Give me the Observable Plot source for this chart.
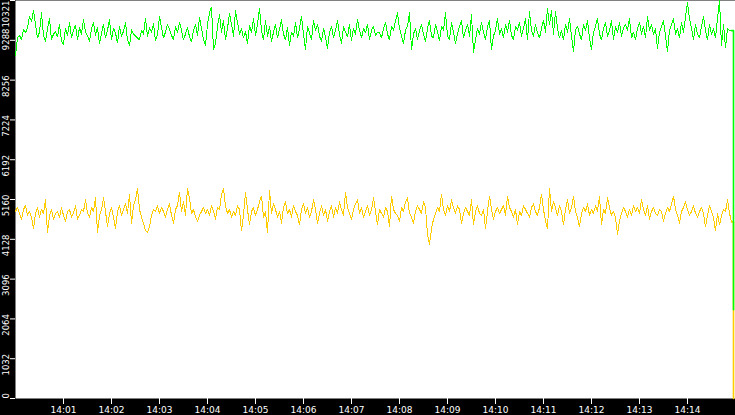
<!DOCTYPE html>
<html>
<head>
<meta charset="utf-8">
<script src="https://cdn.jsdelivr.net/npm/d3@7"></script>
<script src="https://cdn.jsdelivr.net/npm/@observablehq/plot@0.6"></script>
<style>
  html, body { margin: 0; padding: 0; background: #000; overflow: hidden; }
  #chart svg { display: block; }
</style>
</head>
<body>
<div id="chart"></div>
<script>
// ---- data (one sample every 2.5 s from 14:00:00) ----
const startTime = "14:00:00";
const endTime = "14:15:00";
const sampleSeconds = 2.5;

const greenValues = [
  8900, 9350, 9420, 9300, 9560, 9480, 9620, 9900, 9780, 10050, 9700, 9350, 9500, 10000, 9420, 9250, 9600, 9850, 9300, 9450,
  9520, 9380, 9700, 9270, 9180, 9600, 9420, 9750, 9350, 9550, 9680, 9300, 9620, 9450, 9820, 9500, 9400, 9270, 9580, 9750,
  9420, 9620, 9200, 9480, 9700, 9350, 9550, 9830, 9300, 9600, 9480, 9220, 9650, 9400, 9520, 9750, 9300, 9150, 9560, 9450,
  9400, 9350, 9300, 9550, 9450, 9850, 9380, 9620, 9500, 9720, 9280, 9450, 9900, 9620, 9350, 9500, 9700, 9580, 9420, 9300,
  9650, 9480, 9750, 9550, 9300, 9450, 9620, 9380, 9250, 9550, 9700, 9420, 9880, 9600, 9300, 9150, 9700, 10000, 10150, 9050,
  9200, 9650, 9950, 9500, 9800, 9300, 9600, 9980, 9700, 9400, 10050, 9750, 9450, 9600, 9350, 9520, 9200, 9680, 9500, 9850,
  9420, 9700, 10120, 9550, 9300, 9800, 9400, 9650, 9250, 9500, 9700, 9350, 9580, 9820, 9450, 9300, 9620, 9150, 9500, 9400,
  9750, 9350, 9600, 9900, 9450, 9050, 9650, 9480, 9300, 9800, 9550, 9700, 9400, 9250, 9600, 9380, 9080, 9500, 9650, 9350,
  9550, 9800, 9450, 9200, 9650, 9500, 9380, 9700, 9280, 9600, 9450, 9820, 9550, 9350, 9600, 9480, 9700, 9300, 9550, 9650, 9420, 9500,
  9500, 9350, 9600, 9750, 9450, 9300, 9650, 9550, 9800, 10000, 9600, 9400, 9200, 9550, 9650, 10000, 9050, 9450, 9600, 9300,
  9550, 9700, 9450, 9250, 9600, 9800, 9400, 9350, 9700, 9500, 9280, 9650, 9550, 10000, 9400, 9300, 9750, 9500, 9200, 9450,
  9650, 9800, 9350, 9550, 9700, 9400, 9950, 8980, 9300, 9600, 9450, 9750, 9500, 9300, 9650, 9800, 9040, 9400, 9550, 9850,
  9450, 9600, 9350, 9700, 9500, 9800, 9420, 9300, 9650, 9550, 9750, 9400, 9600, 9850, 9300, 10030, 9550, 9400, 9700, 9480,
  9350, 9600, 9800, 9500, 10110, 9700, 10060, 9450, 10030, 9600, 9350, 9550, 9300, 9700, 9500, 9850, 9400, 9000, 9550, 9650,
  9450, 9300, 9700, 9550, 9800, 9350, 9050, 9500, 9650, 9850, 9450, 9300, 9600, 9750, 9400, 9550, 9800, 9300, 9650, 9500, 9750, 9400, 9600,
  9700, 9550, 9850, 9350, 9500, 9300, 9600, 9750, 9450, 9650, 9350, 9900, 9550, 9700, 9450, 9600, 9080, 9500, 9650, 9800,
  9400, 9000, 9550, 9700, 9850, 9450, 9600, 9350, 9750, 9500, 9900, 10270, 9850, 9600, 9300, 9700, 9450, 9350, 9650, 9900,
  9550, 9300, 9700, 9450, 9600, 9350, 9850, 10321, 9150, 9700, 9100, 9600, 9540, 9540,
  2300
];

const yellowValues = [
  4850, 4950, 4800, 4650, 4900, 5000, 4750, 4850, 4700, 4400, 4800, 4950, 4700, 4900, 4800, 5150, 4300, 4750, 4900, 4650,
  4800, 4850, 4700, 4950, 4750, 4600, 4850, 4900, 4700, 4800, 5000, 4650, 4750, 4900, 4850, 5150, 4800, 4700, 4950, 4850,
  5200, 4300, 4750, 4900, 5200, 4850, 4450, 4800, 4950, 4700, 4400, 4850, 5000, 4750, 4900, 5050, 4800, 5300, 4550, 5000,
  5150, 5450, 4900, 4700, 4550, 4350, 4300, 4450, 4750, 4900, 4850, 5000, 4800, 4950, 4850, 4700, 4900, 5050, 4750, 4550,
  4900, 5000, 5350, 4850, 5100, 4750, 5450, 5200, 4800, 4900, 4700, 4600, 4750, 4850, 4950, 4800, 4900, 4750, 5000, 4850,
  4650, 4950, 4900, 5300, 5450, 5000, 4800, 4900, 4700, 4850, 4750, 5000, 4900, 4350, 4750, 5350, 4900, 4500, 4850, 4950,
  4750, 4900, 5100, 5250, 4700, 4850, 4300, 5400, 4800, 5050, 4900, 4700, 4850, 4550, 4950, 5100, 4800, 4900, 4700, 5000,
  4850, 4750, 4500, 4900, 5050, 4800, 4950, 4700, 4850, 5150, 4900, 4550, 4800, 5000, 4750, 4900, 4600, 4850, 5000, 4700,
  4950, 4800, 5100, 4900, 4750, 5350, 4950, 4800, 4650, 4900, 5050, 5150, 4800, 4950, 4700, 4850, 5000, 4750, 4900, 5200, 4850, 4500,
  4900, 4800, 4700, 4950, 4850, 4450, 5250, 4900, 4800, 4750, 4600, 4950, 4850, 5100, 5200, 4800, 4700, 4550, 4850, 5000,
  4900, 4800, 5100, 4950, 4250, 3990, 4400, 4650, 4800, 4950, 4850, 5300, 4900, 4750, 5000, 4850, 5150, 4950, 4800, 5000,
  4900, 4550, 4800, 4950, 4850, 4750, 5150, 4500, 4850, 5000, 4800, 4750, 4900, 4400, 4850, 5250, 4900, 4650, 4850, 4950,
  4800, 4900, 5000, 4750, 5250, 4950, 4850, 4700, 4900, 4500, 4850, 4750, 5000, 4900, 4800, 4700, 4950, 5050, 4850, 4750,
  4950, 5300, 4900, 4600, 4400, 5450, 4850, 5100, 4950, 4750, 5000, 4850, 4500, 4900, 5150, 4800, 4950, 5250, 4850, 4700,
  4450, 4800, 4950, 4850, 5050, 4750, 4900, 4800, 5000, 4850, 5250, 4500, 4900, 4800, 5200, 4950, 4750, 4850, 4700, 4250,
  4600, 4800, 4950, 4850, 4700, 4900, 4750, 5000, 4850, 4950, 4800, 5150, 4900, 4750, 5000, 4650, 4850, 4950, 4800, 4750,
  4900, 4850, 4600, 4800, 4950, 4850, 5050, 5250, 4900, 4750, 4550, 4850, 4950, 5100, 4900, 4750, 4850, 5000, 4800, 4700,
  4850, 4950, 4800, 4450, 4750, 5000, 4850, 4700, 4350, 4800, 4500, 4750, 4900, 4850, 5150, 4800, 4580,
  0
];

const yTicks = [0, 1032, 2064, 3096, 4128, 5160, 6192, 7224, 8256, 9288, 10321];
const xTickLabels = ["14:01", "14:02", "14:03", "14:04", "14:05", "14:06", "14:07",
                     "14:08", "14:09", "14:10", "14:11", "14:12", "14:13", "14:14"];

// ---- build tables ----
const parseClock = s => {
  const [h, m, sec] = s.split(":").map(Number);
  return new Date(2024, 0, 1, h, m, sec || 0);
};
const t0 = parseClock(startTime);
const toRows = vals => vals.map((v, i) => ({t: new Date(t0.getTime() + i * sampleSeconds * 1000), v}));
const greenRows = toRows(greenValues);
const yellowRows = toRows(yellowValues);
const xTicks = xTickLabels.map(parseClock);
const yMax = yTicks[yTicks.length - 1];
const midTicks = yTicks.slice(1, -2);

const font = "'DejaVu Sans', sans-serif";
const yLab = {frameAnchor: "left", dx: -9, rotate: -90, lineAnchor: "middle", fill: "#fff", fontSize: 8.5, y: d => d, text: d => String(d)};
const lineOpts = {x: "t", y: "v", strokeWidth: 1, shapeRendering: "crispEdges"};

const chart = Plot.plot({
  width: 735,
  height: 415,
  marginLeft: 15,
  marginRight: 0,
  marginTop: 0,
  marginBottom: 17,
  style: {background: "#000", color: "#fff", fontFamily: font, fontSize: "9px", overflow: "visible"},
  x: {type: "time", domain: [t0, parseClock(endTime)]},
  y: {domain: [0, yMax]},
  marks: [
    Plot.frame({fill: "#fff", stroke: null}),
    // yellow series: body + final drop (held, then vertical)
    Plot.lineY(yellowRows.slice(0, -1), {...lineOpts, stroke: "#ffcc00", curve: "linear"}),
    Plot.lineY(yellowRows.slice(-2), {x: "t", y: "v", stroke: "#ffcc00", strokeWidth: 1.6, curve: "step-after"}),
    // green series
    Plot.lineY(greenRows.slice(0, -1), {...lineOpts, stroke: "#00ff00", curve: "linear"}),
    Plot.lineY(greenRows.slice(-2), {x: "t", y: "v", stroke: "#00ff00", strokeWidth: 1.6, curve: "step-after"}),
    Plot.axisX({ticks: xTicks, tickFormat: d3.timeFormat("%H:%M"), tickSize: 6, tickPadding: 2, stroke: "#fff", fill: "#fff", label: null, fontSize: 9}),
    Plot.axisY({ticks: yTicks, tickSize: 5, tickFormat: () => "", stroke: "#fff", label: null}),
    // rotated tick labels
    Plot.text(midTicks, {...yLab, dy: 6, textAnchor: "middle"}),
    Plot.text([yTicks[yTicks.length - 2]], {...yLab, dy: -1, textAnchor: "middle"}),
    Plot.text([yMax], {...yLab, dy: 0, textAnchor: "end"}),
    Plot.text([0], {...yLab, dy: 0, textAnchor: "start"})
  ]
});
document.getElementById("chart").appendChild(chart);
</script>
</body>
</html>
